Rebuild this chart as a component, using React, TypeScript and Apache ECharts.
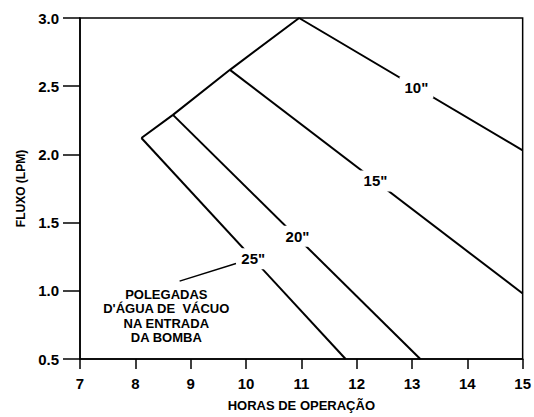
import React, { useEffect, useRef } from "react";
import * as echarts from "echarts";

const envelope: [number, number][] = [
  [8.11, 2.12],
  [8.68, 2.29],
  [9.71, 2.62],
  [10.96, 3.0],
];
const line10: [number, number][] = [[10.96, 3.0], [15, 2.03]];
const line15: [number, number][] = [[9.71, 2.62], [15, 0.98]];
const line20: [number, number][] = [[8.68, 2.29], [13.15, 0.5]];
const line25: [number, number][] = [[8.11, 2.12], [11.8, 0.5]];
const curveLabels = ['10"', '15"', '20"', '25"'];
const labelPoints: [number, number][] = [
  [13.08, 2.49],
  [12.34, 1.805],
  [10.93, 1.4],
  [10.13, 1.235],
];
const leader: [number, number][] = [[8.8, 1.071], [9.82, 1.2]];
const annotationLines = ["POLEGADAS", "D'ÁGUA DE  VÁCUO", "NA ENTRADA", "DA BOMBA"];
const xTitle = "HORAS DE OPERAÇÃO";
const yTitle = "FLUXO (LPM)";

const FONT = "'Liberation Sans', Arial, Helvetica, sans-serif";

export default function App() {
  const ref = useRef<HTMLDivElement>(null);
  useEffect(() => {
    if (!ref.current) return;
    const chart = echarts.init(ref.current, undefined, { renderer: "svg" });
    const lineStyle = { color: "#000", width: 2 };
    const mkLine = (data: [number, number][]) => ({
      type: "line",
      data,
      symbol: "none",
      silent: true,
      clip: false,
      lineStyle,
      z: 2,
    });
    chart.setOption({
      animation: false,
      backgroundColor: "#fff",
      grid: {
        left: 80,
        top: 18,
        width: 445,
        height: 346,
        show: true,
        borderColor: "#000",
        borderWidth: 1.5,
      },
      xAxis: {
        type: "value",
        min: 7,
        max: 15,
        interval: 1,
        name: xTitle,
        nameLocation: "middle",
        nameGap: 40,
        nameTextStyle: { color: "#000", fontFamily: FONT, fontSize: 13, fontWeight: "bold" },
        axisLine: { show: true, lineStyle: { color: "#000", width: 1.5 } },
        axisTick: { show: true, length: 10, lineStyle: { color: "#000", width: 1.5 } },
        axisLabel: { color: "#000", fontFamily: FONT, fontSize: 15, fontWeight: "bold", margin: 17 },
        splitLine: { show: false },
      },
      yAxis: {
        type: "value",
        min: 0.5,
        max: 3.0,
        interval: 0.5,
        name: yTitle,
        nameLocation: "middle",
        nameGap: 52,
        nameTextStyle: { color: "#000", fontFamily: FONT, fontSize: 12, fontWeight: "bold" },
        axisLine: { show: true, lineStyle: { color: "#000", width: 1.5 } },
        axisTick: { show: true, length: 17, lineStyle: { color: "#000", width: 1.5 } },
        axisLabel: {
          color: "#000",
          fontFamily: FONT,
          fontSize: 15,
          fontWeight: "bold",
          margin: 21,
          formatter: (v: number) => v.toFixed(1),
        },
        splitLine: { show: false },
      },
      series: [
        mkLine(envelope),
        mkLine(line10),
        mkLine(line15),
        mkLine(line20),
        mkLine(line25),
        { ...mkLine(leader), lineStyle: { color: "#000", width: 1.5 } },
        {
          type: "scatter",
          data: labelPoints.map((p, i) => ({ value: p, name: curveLabels[i] })),
          symbolSize: 0,
          silent: true,
          z: 5,
          itemStyle: { opacity: 1, color: "#000" },
          label: {
            show: true,
            position: "inside",
            formatter: (p: any) => p.name,
            color: "#000",
            opacity: 1,
            fontFamily: FONT,
            fontSize: 15,
            fontWeight: "bold",
            backgroundColor: "#fff",
            padding: [3, 5],
          },
        },
      ],
      graphic: [
        {
          type: "text",
          left: 173 - 70,
          top: 287,
          style: {
            text: annotationLines.join("\n"),
            x: 70,
            textAlign: "center",
            fill: "#000",
            font: `bold 13px ${FONT}`,
            lineHeight: 14.5,
          },
        },
      ],
    });
    return () => chart.dispose();
  }, []);
  return (
    <div
      ref={ref}
      style={{ position: "fixed", left: 0, top: 0, width: 534, height: 417 }}
    />
  );
}
